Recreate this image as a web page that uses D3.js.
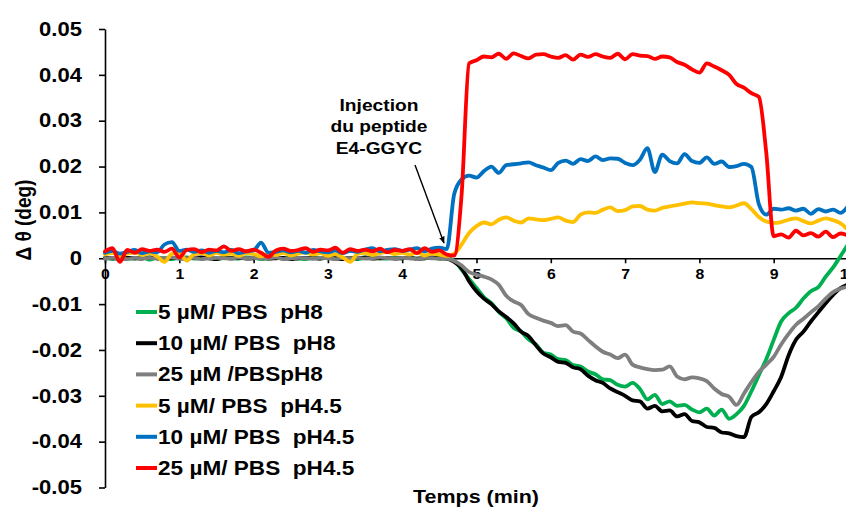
<!DOCTYPE html>
<html><head><meta charset="utf-8">
<script src="https://cdn.jsdelivr.net/npm/d3@7"></script>
<style>
html,body{margin:0;padding:0;background:#fff;overflow:hidden}
svg text{font-family:"Liberation Sans",Arial,sans-serif;font-weight:bold;fill:#000}
</style></head><body>
<svg id="chart" width="846" height="507"></svg>
<script>
// time axis, minutes (0.0 .. 10.0 every 0.1 min)
const times = d3.range(0, 101).map(i => i / 10);

const green5pH8 = [
  0.0001,-0.0002,0.0002,0.0000,-0.0001,0.0002,-0.0003,0.0001,0.0000,-0.0002,
  0.0001,0.0002,-0.0001,0.0000,0.0002,-0.0002,0.0001,0.0000,-0.0001,0.0002,
  0.0001,-0.0002,0.0000,0.0001,-0.0001,0.0002,0.0000,-0.0002,0.0001,0.0000,
  0.0002,-0.0001,0.0000,0.0001,-0.0002,0.0001,0.0002,0.0000,-0.0001,0.0001,
  0.0000,0.0002,-0.0001,0.0000,0.0001,-0.0001,0.0000,-0.0005,-0.0025,-0.0045,
  -0.0065,-0.0085,-0.0098,-0.0117,-0.0131,-0.0152,-0.0160,-0.0177,-0.0188,-0.0206,
  -0.0210,-0.0220,-0.0222,-0.0233,-0.0236,-0.0247,-0.0253,-0.0264,-0.0266,-0.0276,
  -0.0280,-0.0272,-0.0285,-0.0308,-0.0298,-0.0318,-0.0312,-0.0322,-0.0320,-0.0330,
  -0.0336,-0.0328,-0.0343,-0.0330,-0.0350,-0.0340,-0.0322,-0.0290,-0.0255,-0.0220,
  -0.0178,-0.0138,-0.0120,-0.0108,-0.0088,-0.0072,-0.0063,-0.0040,-0.0020,0.0005,
  0.0030];

const black10pH8 = [
  0.0000,0.0001,-0.0002,0.0001,0.0000,-0.0001,0.0002,0.0000,-0.0002,0.0001,
  0.0000,-0.0001,0.0001,0.0002,0.0000,-0.0002,0.0001,0.0000,0.0001,-0.0001,
  0.0000,0.0002,-0.0001,0.0000,0.0001,-0.0002,0.0000,0.0001,0.0000,-0.0001,
  0.0001,0.0000,-0.0002,0.0001,0.0000,0.0002,-0.0001,0.0000,0.0001,-0.0001,
  0.0000,0.0001,-0.0001,0.0000,0.0002,0.0000,-0.0001,-0.0008,-0.0022,-0.0050,
  -0.0072,-0.0088,-0.0100,-0.0116,-0.0128,-0.0142,-0.0160,-0.0170,-0.0190,-0.0208,
  -0.0216,-0.0226,-0.0228,-0.0238,-0.0242,-0.0256,-0.0266,-0.0272,-0.0284,-0.0292,
  -0.0300,-0.0310,-0.0312,-0.0328,-0.0322,-0.0334,-0.0332,-0.0345,-0.0340,-0.0355,
  -0.0358,-0.0368,-0.0370,-0.0380,-0.0382,-0.0388,-0.0390,-0.0346,-0.0336,-0.0318,
  -0.0290,-0.0259,-0.0212,-0.0178,-0.0160,-0.0138,-0.0118,-0.0098,-0.0080,-0.0065,
  -0.0057];

const grey25pH8 = [
  -0.0001,0.0001,0.0000,-0.0002,0.0001,0.0000,0.0001,-0.0001,0.0000,0.0002,
  -0.0001,0.0000,0.0001,-0.0002,0.0000,0.0001,0.0000,-0.0001,0.0002,0.0000,
  0.0001,-0.0001,0.0000,0.0002,-0.0002,0.0000,0.0001,0.0000,-0.0001,0.0001,
  0.0000,-0.0002,0.0001,0.0000,0.0001,-0.0001,0.0000,0.0002,0.0000,-0.0001,
  0.0001,0.0000,-0.0002,0.0001,0.0000,-0.0001,-0.0001,-0.0006,-0.0016,-0.0030,
  -0.0036,-0.0040,-0.0046,-0.0058,-0.0082,-0.0094,-0.0102,-0.0122,-0.0130,-0.0136,
  -0.0141,-0.0148,-0.0146,-0.0160,-0.0164,-0.0178,-0.0192,-0.0204,-0.0210,-0.0218,
  -0.0210,-0.0232,-0.0238,-0.0242,-0.0244,-0.0243,-0.0236,-0.0258,-0.0264,-0.0260,
  -0.0262,-0.0268,-0.0284,-0.0296,-0.0302,-0.0320,-0.0295,-0.0270,-0.0248,-0.0232,
  -0.0215,-0.0188,-0.0165,-0.0145,-0.0132,-0.0118,-0.0105,-0.0088,-0.0074,-0.0066,
  -0.0062];

const yellow5pH45 = [
  0.0008,0.0012,0.0006,0.0010,0.0013,0.0007,0.0011,0.0004,-0.0008,0.0010,
  0.0012,-0.0005,0.0009,0.0011,0.0006,0.0012,0.0008,0.0010,0.0005,0.0011,
  0.0009,0.0004,0.0010,0.0007,0.0012,0.0006,0.0010,0.0013,0.0008,0.0011,
  0.0005,0.0009,0.0002,-0.0008,0.0010,0.0012,0.0007,0.0011,0.0014,0.0009,
  0.0012,0.0008,0.0013,0.0006,0.0010,0.0008,0.0005,0.0010,0.0030,0.0055,
  0.0070,0.0078,0.0074,0.0084,0.0089,0.0082,0.0078,0.0087,0.0085,0.0083,
  0.0086,0.0089,0.0082,0.0079,0.0095,0.0100,0.0099,0.0106,0.0111,0.0103,
  0.0105,0.0113,0.0114,0.0106,0.0104,0.0110,0.0113,0.0116,0.0119,0.0122,
  0.0120,0.0119,0.0116,0.0113,0.0111,0.0115,0.0120,0.0107,0.0090,0.0080,
  0.0077,0.0079,0.0084,0.0087,0.0081,0.0076,0.0082,0.0087,0.0083,0.0076,
  0.0062];

const blue10pH45 = [
  0.0012,0.0016,0.0010,0.0014,0.0018,0.0011,0.0015,0.0013,0.0030,0.0035,
  0.0016,0.0019,0.0014,0.0017,0.0012,0.0016,0.0013,0.0018,0.0011,0.0015,
  0.0017,0.0034,0.0012,0.0014,0.0017,0.0013,0.0016,0.0012,0.0018,0.0015,
  0.0013,0.0017,0.0011,0.0016,0.0014,0.0019,0.0022,0.0015,0.0018,0.0020,
  0.0016,0.0019,0.0022,0.0015,0.0021,0.0023,0.0020,0.0140,0.0172,0.0180,
  0.0176,0.0190,0.0200,0.0186,0.0203,0.0205,0.0207,0.0209,0.0203,0.0198,
  0.0192,0.0208,0.0213,0.0206,0.0216,0.0212,0.0222,0.0214,0.0218,0.0217,
  0.0208,0.0203,0.0215,0.0240,0.0188,0.0226,0.0212,0.0207,0.0227,0.0212,
  0.0208,0.0220,0.0206,0.0211,0.0199,0.0201,0.0206,0.0199,0.0118,0.0095,
  0.0108,0.0106,0.0109,0.0104,0.0108,0.0097,0.0107,0.0102,0.0106,0.0099,
  0.0114];

const red25pH45 = [
  0.0015,0.0022,-0.0008,0.0018,0.0012,0.0020,0.0016,0.0019,0.0014,0.0021,
  0.0002,0.0018,0.0020,0.0013,0.0019,0.0017,0.0026,0.0016,0.0020,0.0015,
  0.0019,0.0012,0.0003,0.0017,0.0021,0.0016,0.0018,0.0022,0.0014,0.0019,
  0.0017,0.0023,0.0012,0.0020,0.0016,0.0019,0.0015,0.0021,0.0013,0.0018,
  0.0016,0.0020,0.0011,0.0022,0.0014,0.0017,0.0008,0.0006,0.0140,0.0425,
  0.0432,0.0440,0.0438,0.0446,0.0435,0.0447,0.0441,0.0436,0.0444,0.0445,
  0.0440,0.0437,0.0443,0.0433,0.0444,0.0439,0.0445,0.0440,0.0437,0.0446,
  0.0434,0.0445,0.0442,0.0441,0.0435,0.0440,0.0438,0.0428,0.0422,0.0412,
  0.0405,0.0425,0.0418,0.0410,0.0400,0.0380,0.0372,0.0360,0.0352,0.0230,
  0.0048,0.0052,0.0045,0.0060,0.0050,0.0055,0.0047,0.0058,0.0046,0.0054,
  0.0050];

const seriesLabels = [
  "5 µM/ PBS  pH8",
  "10 µM/ PBS  pH8",
  "25 µM /PBSpH8",
  "5 µM/ PBS  pH4.5",
  "10 µM/ PBS  pH4.5",
  "25 µM/ PBS  pH4.5"
];
const seriesValues = [green5pH8, black10pH8, grey25pH8, yellow5pH45, blue10pH45, red25pH45];
const seriesColors = ["#00B050", "#000000", "#7F7F7F", "#FFC000", "#0070C0", "#FF0000"];

const xTicks = [0, 1, 2, 3, 4, 5, 6, 7, 8, 9, 10];
const yTicks = [0.05, 0.04, 0.03, 0.02, 0.01, 0, -0.01, -0.02, -0.03, -0.04, -0.05];
const yTickLabels = ["0.05", "0.04", "0.03", "0.02", "0.01", "0", "-0.01", "-0.02", "-0.03", "-0.04", "-0.05"];

const xTitle = "Temps (min)";
const yTitle = "Δ θ (deg)";
const annotationLines = ["Injection", "du peptide", "E4-GGYC"];

// ---------- drawing ----------
const SX = 1.13; // horizontal text stretch of the original
const svg = d3.select("#chart");
const x = d3.scaleLinear().domain([0, 10]).range([105, 848]);
const y = d3.scaleLinear().domain([-0.05, 0.05]).range([487.5, 29]);

// y axis
const yAxis = svg.append("g").attr("transform", "translate(105,0)")
  .call(d3.axisLeft(y).tickValues(yTicks).tickFormat((d, i) => yTickLabels[i])
    .tickSize(6).tickSizeOuter(0).tickPadding(14.4));
yAxis.select(".domain").attr("stroke", "#000").attr("stroke-width", 1.6);
yAxis.selectAll(".tick line").attr("stroke", "#000").attr("stroke-width", 1.6);
yAxis.selectAll(".tick text").attr("font-size", 19.5).attr("fill", "#000")
  .attr("transform", `scale(${SX},1)`);

// x axis at y = 0
const xAxis = svg.append("g").attr("transform", `translate(0,${y(0)})`)
  .call(d3.axisBottom(x).tickValues(xTicks).tickFormat(d3.format("d"))
    .tickSize(5).tickSizeOuter(0).tickPadding(6));
xAxis.select(".domain").attr("stroke", "#000").attr("stroke-width", 1.6);
xAxis.selectAll(".tick line").attr("stroke", "#000").attr("stroke-width", 1.6);
xAxis.selectAll(".tick text").attr("font-size", 14).attr("fill", "#000")
  .attr("transform", `scale(${SX},1)`);
svg.selectAll(".tick text").style("font-family", '"Liberation Sans", Arial, sans-serif').style("font-weight", "bold");

// lines
const line = d3.line().x((d, i) => x(times[i])).y(d => y(d)).curve(d3.curveMonotoneX);
svg.append("g").selectAll("path").data(seriesValues).join("path")
  .attr("d", d => line(d))
  .attr("fill", "none")
  .attr("stroke", (d, i) => seriesColors[i])
  .attr("stroke-width", 3.8)
  .attr("stroke-linejoin", "round")
  .attr("stroke-linecap", "round");

// legend
const leg = svg.append("g");
seriesLabels.forEach((lab, i) => {
  const cy = 312 + i * 31.2;
  leg.append("line").attr("x1", 136).attr("x2", 157).attr("y1", cy).attr("y2", cy)
    .attr("stroke", seriesColors[i]).attr("stroke-width", 4);
  leg.append("text").attr("transform", `translate(158,${cy}) scale(${SX},1)`)
    .attr("dy", "0.35em").attr("font-size", 20)
    .attr("xml:space", "preserve").style("white-space", "pre")
    .text(lab);
});

// axis titles
svg.append("text").attr("transform", `translate(476,503) scale(${SX},1)`)
  .attr("text-anchor", "middle").attr("font-size", 19).text(xTitle);
svg.append("text").attr("transform", `translate(31,220) rotate(-90) scale(1,${SX})`)
  .attr("text-anchor", "middle").attr("font-size", 19).text(yTitle);

// annotation
annotationLines.forEach((t, i) => {
  svg.append("text").attr("transform", `translate(379,${110.7 + i * 21.6}) scale(${SX},1)`)
    .attr("text-anchor", "middle").attr("font-size", 17).text(t);
});
const defs = svg.append("defs");
defs.append("marker").attr("id", "arrow").attr("viewBox", "0 0 10 10")
  .attr("refX", 9).attr("refY", 5).attr("markerWidth", 7).attr("markerHeight", 7)
  .attr("orient", "auto").attr("markerUnits", "userSpaceOnUse")
  .append("path").attr("d", "M0,1 L10,5 L0,9 Z").attr("fill", "#000");
svg.append("line").attr("x1", 415).attr("y1", 165).attr("x2", 444).attr("y2", 243)
  .attr("stroke", "#000").attr("stroke-width", 1.4).attr("marker-end", "url(#arrow)");
</script>
</body></html>
